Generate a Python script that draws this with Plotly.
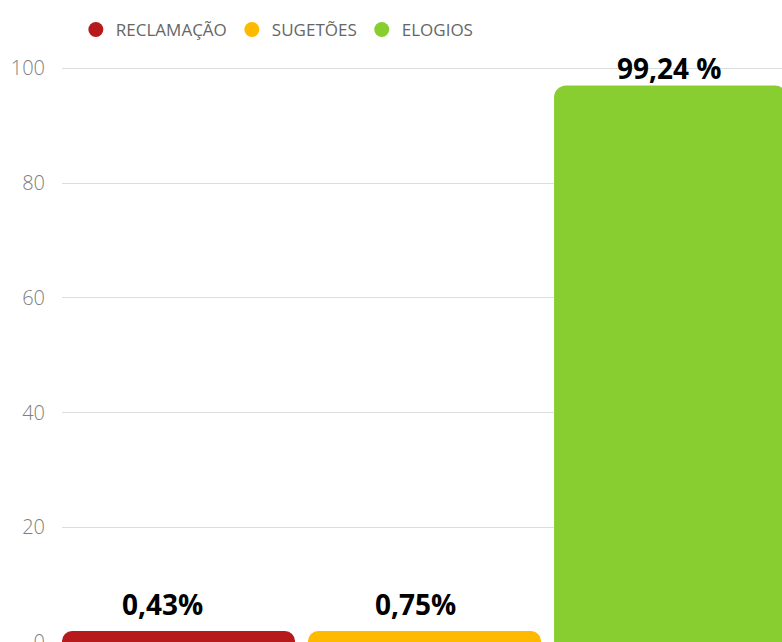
import plotly.graph_objects as go

categories = ["RECLAMAÇÃO", "SUGETÕES", "ELOGIOS"]
bar_values = [1.9, 1.9, 97.0]
label_texts = ["0,43%", "0,75%", "99,24 %"]
colors = ["#B71A1A", "#FFBA00", "#88CE30"]
y_ticks = [0, 20, 40, 60, 80, 100]

label_xshift = [-16.5, -9, -1]
label_yshift = [27, 27, 18]

fig = go.Figure()
fig.add_trace(go.Bar(
    x=list(range(len(categories))), y=bar_values,
    marker=dict(color=colors, line=dict(width=0)),
    width=0.947, showlegend=False, hoverinfo="skip",
))
for name, col in zip(categories, colors):
    fig.add_trace(go.Scatter(
        x=[None], y=[None], mode="markers", name=name,
        marker=dict(symbol="circle", size=15, color=col),
    ))

for i, (v, t) in enumerate(zip(bar_values, label_texts)):
    fig.add_annotation(
        x=i, y=v, xref="x", yref="y", text=t, showarrow=False,
        yanchor="middle", xanchor="center",
        xshift=label_xshift[i], yshift=label_yshift[i],
        font=dict(family="Open Sans", size=28, color="#000000", weight="bold"),
    )

fig.update_layout(
    width=782, height=642,
    margin=dict(l=62, r=0, t=60, b=0, autoexpand=False),
    plot_bgcolor="white", paper_bgcolor="white",
    barcornerradius=12,
    showlegend=True,
    legend=dict(
        orientation="h", xref="container", yref="container",
        x=0.097, xanchor="left", y=1 - 30 / 642, yanchor="middle",
        font=dict(family="Open Sans", size=17, color="#666666"),
        itemclick=False, itemdoubleclick=False,
        bgcolor="rgba(0,0,0,0)",
    ),
    xaxis=dict(
        range=[-0.4736, 2.453], showticklabels=False, showgrid=False,
        zeroline=False, showline=False, fixedrange=True, automargin=False,
    ),
    yaxis=dict(
        range=[0, 101.45], tickvals=y_ticks, showgrid=True,
        gridcolor="#DDDDDD", gridwidth=1, zeroline=False, showline=False,
        ticklabelstandoff=16, ticklabeloverflow="allow", automargin=False,
        tickfont=dict(family="Open Sans", size=20, color="#808080", weight=300),
        fixedrange=True,
    ),
)

fig.write_html(
    "out.html",
    config={"displayModeBar": False},
    post_script="document.body.style.margin='0';",
)
